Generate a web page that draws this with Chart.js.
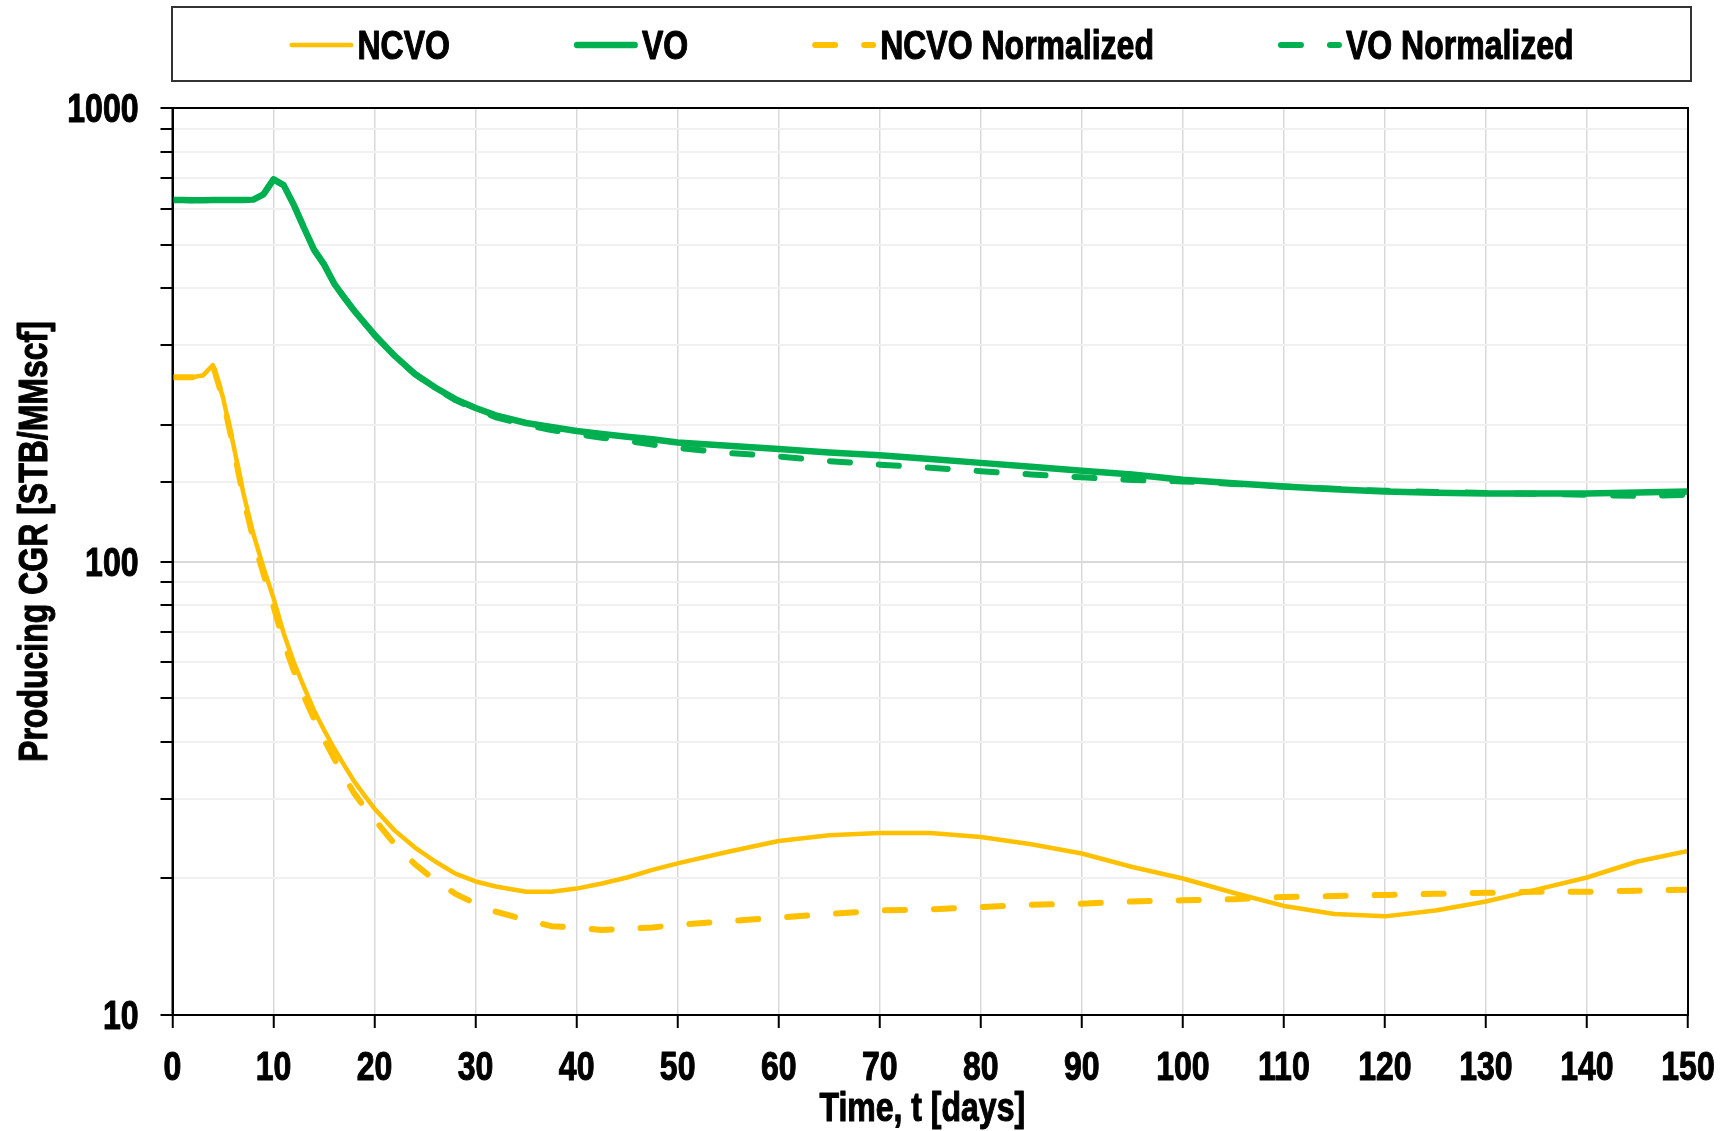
<!DOCTYPE html>
<html>
<head>
<meta charset="utf-8">
<script src="https://cdn.jsdelivr.net/npm/chart.js@4.4.1/dist/chart.umd.min.js"></script>
<style>
  html, body { margin: 0; padding: 0; background: #fff; }
</style>
</head>
<body>
<canvas id="cgr-grafico" width="1725" height="1131"></canvas>
<script>
//------ Datos ------//
let dias = [0,1,2,3,4,5,6,7,8,9,10,11,12,13,14,15,16,17,18,19,20,22,24,26,28,30,32,35,37.5,40,42.5,45,47.5,50,55,60,65,70,75,80,85,90,95,100,105,110,115,120,125,130,135,140,145,150];

let ncvo = [255,255,255,257,271,230,182,142,115,97,83,69.5,60,53,47,42.5,38.7,35.5,32.7,30.5,28.5,25.5,23.4,21.8,20.5,19.7,19.2,18.7,18.7,19.0,19.5,20.1,20.9,21.6,22.9,24.2,24.9,25.2,25.2,24.7,23.8,22.7,21.2,20.0,18.6,17.4,16.7,16.5,17.0,17.8,18.9,20.1,21.8,23.0];

let vo = [627,627,626,626,627,627,627,627,628,645,696,676,612,545,487,452,410,382,357,336,316,284,259,242,228,218,210,202,198,194,191,188.5,186,183,180,177,174,171.5,168.3,165,161.8,158.5,155.5,151.5,148.7,146.3,144.4,142.6,141.8,141.3,141.3,141.3,142,142.6];

let ncvoNorm = [255,255,255,257,271,228,180,139,112,94,79.6,66.5,57.5,50.5,45,40.5,36.8,33.5,30.8,28.7,27,23.8,21.5,19.8,18.5,17.6,16.9,16.2,15.7,15.6,15.4,15.5,15.6,15.8,16.1,16.4,16.7,17.0,17.1,17.3,17.5,17.6,17.8,17.9,18.0,18.2,18.3,18.4,18.5,18.6,18.7,18.7,18.8,18.9];

let voNorm = [627,627,626,626,627,627,627,627,628,645,696,676,612,545,487,452,410,382,357,336,316,284,259,241,227,216.5,208,200,195,191,187.5,184.5,181,178,173.5,170.5,166.5,163.5,161,158.2,155.6,153.3,151.2,150.2,148.3,146.3,144.6,143.2,142.3,141.6,141,140.3,139.5,140.2];

let xTicks = [0,10,20,30,40,50,60,70,80,90,100,110,120,130,140,150];
let yLabels = [10, 100, 1000];
let xTitulo = 'Time, t [days]';
let yTitulo = 'Producing CGR [STB/MMscf]';

const FUENTE = 'bold 40px "Liberation Sans", Arial, sans-serif';
const ANGOSTO = 0.8;   // compresion horizontal, imita Arial Narrow
const AMARILLO = '#FFC000';
const VERDE = '#00B050';

function puntos(valores) {
  return dias.map((d, i) => ({ x: d, y: valores[i] }));
}

function textoAngosto(ctx, texto, x, y, align, rot) {
  ctx.save();
  ctx.translate(x, y);
  if (rot) ctx.rotate(rot);
  ctx.scale(ANGOSTO, 1);
  ctx.font = FUENTE;
  ctx.fillStyle = '#000';
  ctx.strokeStyle = '#000';
  ctx.lineWidth = 1.1;
  ctx.lineJoin = 'round';
  ctx.textAlign = align;
  ctx.textBaseline = 'alphabetic';
  ctx.fillText(texto, 0, 0);
  ctx.strokeText(texto, 0, 0);
  ctx.restore();
}

function anchoAngosto(ctx, texto) {
  ctx.save();
  ctx.font = FUENTE;
  const w = ctx.measureText(texto).width * ANGOSTO;
  ctx.restore();
  return w;
}

//------ Marco, textos de ejes y leyenda ------//
const marcoLeyenda = {
  id: 'marcoLeyenda',
  afterDraw(chart) {
    const ctx = chart.ctx;
    const a = chart.chartArea;
    const sx = chart.scales.x;
    const sy = chart.scales.y;
    ctx.save();
    ctx.strokeStyle = '#000';
    ctx.lineWidth = 2;
    ctx.strokeRect(a.left, a.top, a.right - a.left, a.bottom - a.top);

    // etiquetas de los ejes
    xTicks.forEach(v => textoAngosto(ctx, String(v), sx.getPixelForValue(v), a.bottom + 65, 'center'));
    yLabels.forEach(v => textoAngosto(ctx, String(v), a.left - 34, sy.getPixelForValue(v) + 14.3, 'right'));
    textoAngosto(ctx, xTitulo, (a.left + a.right) / 2 - 8, a.bottom + 106, 'center');
    textoAngosto(ctx, yTitulo, 47, (a.top + a.bottom) / 2 - 20, 'center', -Math.PI / 2);

    // recuadro de la leyenda
    ctx.strokeStyle = '#333';
    ctx.lineWidth = 2;
    ctx.strokeRect(172, 7, 1519, 74);

    const muestra = 64, hueco = 4, sep = 124;
    const sets = chart.data.datasets;
    let total = 0;
    sets.forEach((ds, j) => {
      total += muestra + hueco + anchoAngosto(ctx, ds.label);
      if (j > 0) total += sep;
    });
    let x = 931.5 - total / 2;
    const y = 45;
    sets.forEach(ds => {
      ctx.save();
      ctx.strokeStyle = ds.borderColor;
      ctx.lineWidth = ds.borderWidth;
      ctx.lineCap = 'round';
      ctx.setLineDash(ds.borderDash || []);
      ctx.beginPath();
      ctx.moveTo(x + ds.borderWidth / 2, y);
      ctx.lineTo(x + muestra - ds.borderWidth / 2, y);
      ctx.stroke();
      ctx.restore();
      textoAngosto(ctx, ds.label, x + muestra + hueco, y + 14.3, 'left');
      x += muestra + hueco + anchoAngosto(ctx, ds.label) + sep;
    });
    ctx.restore();
  }
};

let ctx = document.querySelector('#cgr-grafico');
let grafico = new Chart(ctx, {
  type: 'line',
  data: {
    datasets: [
      { label: 'NCVO', data: puntos(ncvo), borderColor: AMARILLO, borderWidth: 4.5, order: 3 },
      { label: 'VO', data: puntos(vo), borderColor: VERDE, borderWidth: 6.5, order: 2 },
      { label: 'NCVO Normalized', data: puntos(ncvoNorm), borderColor: AMARILLO, borderWidth: 6, borderDash: [20, 29], order: 1 },
      { label: 'VO Normalized', data: puntos(voNorm), borderColor: VERDE, borderWidth: 6, borderDash: [20, 29], order: 0 }
    ]
  },
  options: {
    responsive: false,
    animation: false,
    devicePixelRatio: 1,
    layout: { padding: { top: 108, right: 37, left: 0, bottom: 0 } },
    elements: {
      point: { radius: 0 },
      line: { tension: 0, borderCapStyle: 'round', borderJoinStyle: 'round' }
    },
    plugins: {
      legend: { display: false },
      tooltip: { enabled: false }
    },
    scales: {
      x: {
        type: 'linear',
        min: 0,
        max: 150,
        afterFit: s => { s.height = 116; s.paddingLeft = 0; s.paddingRight = 0; },
        afterBuildTicks: s => { s.ticks = xTicks.map(v => ({ value: v })); },
        grid: { color: '#d9d9d9', lineWidth: 1.5, tickColor: '#000', tickWidth: 2, tickLength: 13 },
        border: { color: '#000', width: 2 },
        ticks: { display: false, autoSkip: false, maxRotation: 0 }
      },
      y: {
        type: 'logarithmic',
        min: 10,
        max: 1000,
        afterFit: s => { s.width = 172.5; s.paddingTop = 0; s.paddingBottom = 0; },
        grid: {
          color: c => (c.tick && yLabels.includes(c.tick.value)) ? '#d9d9d9' : '#f0f0f0',
          lineWidth: 2,
          tickColor: '#000',
          tickWidth: 2,
          tickLength: 12
        },
        border: { color: '#000', width: 2 },
        ticks: { display: false, autoSkip: false }
      }
    }
  },
  plugins: [marcoLeyenda]
});
</script>
</body>
</html>
